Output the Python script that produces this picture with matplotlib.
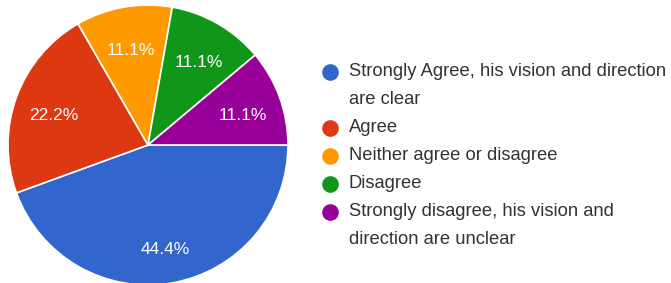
import matplotlib.pyplot as plt

# Survey answers (share of respondents)
labels = [
    "Strongly Agree, his vision and direction\nare clear",
    "Agree",
    "Neither agree or disagree",
    "Disagree",
    "Strongly disagree, his vision and\ndirection are unclear",
]
shares = [44.4, 22.2, 11.1, 11.1, 11.1]
colors = ["#3366cc", "#dc3912", "#ff9900", "#109618", "#990099"]

plt.rcParams["font.family"] = ["Liberation Sans", "DejaVu Sans"]

W, H = 671, 283
fig = plt.figure(figsize=(W / 100, H / 100), dpi=100)

# pie axes, sized in pixels
cx, cy, r = 148, 145, 140
ax = fig.add_axes([(cx - r) / W, 1 - (cy + r) / H, 2 * r / W, 2 * r / H])
wedges, texts, pcts = ax.pie(shares, colors=colors, startangle=0, counterclock=False,
                             autopct="%.1f%%", pctdistance=0.72,
                             wedgeprops=dict(edgecolor="white", linewidth=1.2),
                             textprops=dict(color="white", fontsize=12.5))
# labels sit a little low in the original
for t in pcts:
    x0, y0 = t.get_position()
    t.set_position((x0, y0 - 0.035))
ax.set_xlim(-1, 1)
ax.set_ylim(-1, 1)
ax.set_aspect("equal")

# legend drawn by hand so the marker sits on the first line of each entry
lg = fig.add_axes([0, 0, 1, 1])
lg.set_xlim(0, W)
lg.set_ylim(H, 0)
lg.axis("off")
line_h = 28
y = 72
for lab, col in zip(labels, colors):
    lg.scatter([330], [y], s=120, color=col, zorder=3)
    for i, part in enumerate(lab.split("\n")):
        lg.text(349, y + i * line_h, part, fontsize=13.2, color="#333333",
                va="center", ha="left")
    y += line_h * len(lab.split("\n"))

fig.savefig("out.png", dpi=100)
